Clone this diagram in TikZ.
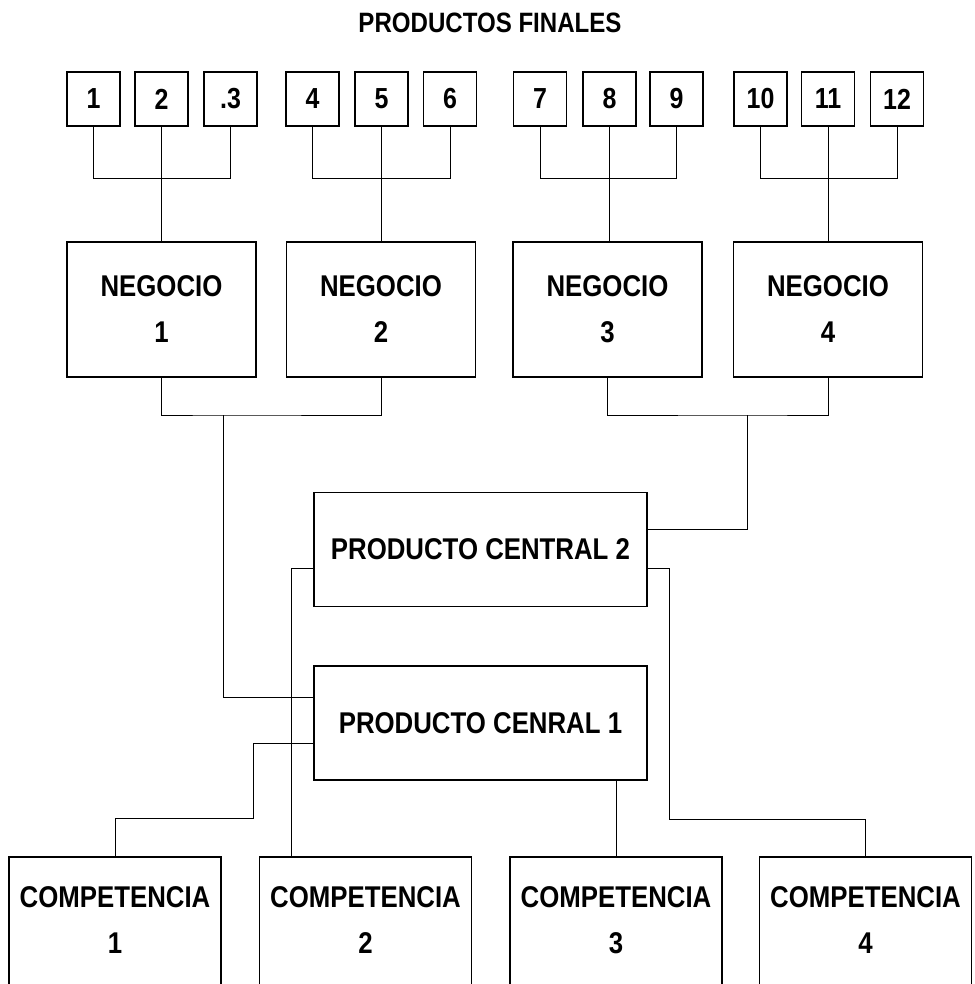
\documentclass[tikz,border=0pt]{standalone}
\usepackage{fontspec}
\newfontfamily\cf{Liberation Sans}[FakeStretch=0.86]
\begin{document}
\begin{tikzpicture}[x=1pt,y=-1pt,
  big/.style={font=\cf\bfseries\fontsize{30}{46}\selectfont},
  sbox/.style={draw,line width=1.3pt,minimum width=53pt,minimum height=54pt,inner sep=0pt,
    font=\cf\bfseries\fontsize{29}{30}\selectfont},
  nbox/.style={draw,line width=1.3pt,minimum width=189pt,minimum height=135pt,inner sep=0pt,align=center,big},
  pbox/.style={draw,line width=1.3pt,minimum width=333pt,minimum height=114pt,inner sep=0pt,big},
  cbox/.style={draw,line width=1.3pt,minimum width=212pt,minimum height=143pt,inner sep=0pt},
  lbl/.style={big,inner sep=0pt},
  conn/.style={line width=0.8pt}]
\useasboundingbox (0,0) rectangle (974,984);
\fill[white] (0,0) rectangle (974,984);

\node[font=\cf\bfseries\fontsize{28}{30}\selectfont] (title) at (490,23) {PRODUCTOS FINALES};

% small boxes
\node[sbox] (s1) at (93.5,99) {1};
\node[sbox] (s2) at (161.5,99) {2};
\node[sbox] (s3) at (230.5,99) {.3};
\node[sbox] (s4) at (312.5,99) {4};
\node[sbox] (s5) at (381.5,99) {5};
\node[sbox] (s6) at (450,99) {6};
\node[sbox] (s7) at (540,99) {7};
\node[sbox] (s8) at (609.5,99) {8};
\node[sbox] (s9) at (676.5,99) {9};
\node[sbox] (s10) at (760.5,99) {10};
\node[sbox] (s11) at (828,99) {11};
\node[sbox] (s12) at (897,99) {12};

% negocio boxes
\node[nbox] (n1) at (161.5,309.5) {NEGOCIO\\1};
\node[nbox] (n2) at (381,309.5) {NEGOCIO\\2};
\node[nbox] (n3) at (607.5,309.5) {NEGOCIO\\3};
\node[nbox] (n4) at (828,309.5) {NEGOCIO\\4};

% central products
\node[pbox] (p2) at (480.5,549.5) {PRODUCTO CENTRAL 2};
\node[pbox] (p1) at (480.5,723) {PRODUCTO CENRAL 1};

% competencias
\node[cbox] (c1) at (115,928.5) {};
\node[cbox] (c2) at (365.5,928.5) {};
\node[cbox] (c3) at (616,928.5) {};
\node[cbox] (c4) at (865.5,928.5) {};
\foreach \i/\x in {1/115,2/365.5,3/616,4/865.5}{
  \node[lbl] (ct\i) at (\x,897) {COMPETENCIA};
  \node[lbl] (cn\i) at (\x,943) {\i};
}

% connectors: small boxes to negocios
\foreach \a/\b/\c/\n in {s1/s2/s3/n1,s4/s5/s6/n2,s7/s8/s9/n3,s10/s11/s12/n4}{
  \draw[conn] (\a.south) -- ++(0,52) -| (\c.south);
  \draw[conn] (\b.south) -- (\n.north -| \b.south);
}

% negocios to central products
\coordinate (jl) at (223,415);
\coordinate (jr) at (747,415);
\draw[conn] (n1.south) |- (jl) -| (n2.south);
\draw[conn] (jl) |- (p1.west |- 0,697);
\draw[conn] (n3.south) |- (jr) -| (n4.south);
\draw[conn] (jr) |- (p2.east |- 0,529);

% central products to competencias
\draw[conn] (p2.west |- 0,568) -| (c2.north -| 291,0);
\draw[conn] (p2.east |- 0,568) -- (669,568) |- (865.5,819) -- (c4.north);
\draw[conn] (p1.west |- 0,743) -| (253,818) -| (c1.north);
\draw[conn] (p1.south -| 616,0) -- (c3.north);
\end{tikzpicture}
\end{document}
